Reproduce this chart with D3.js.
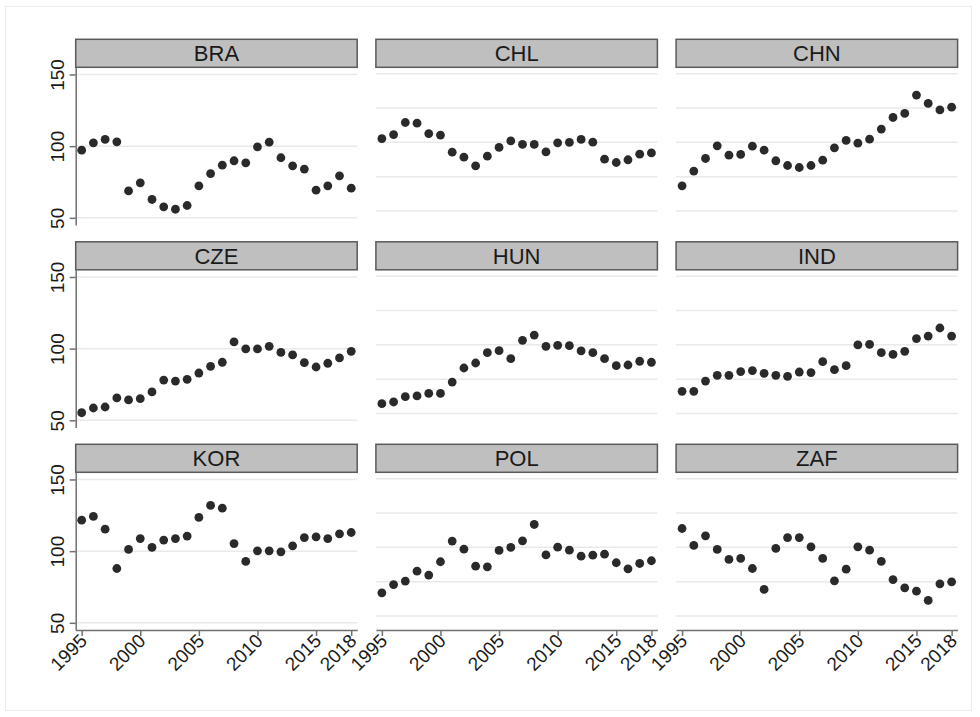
<!DOCTYPE html>
<html>
<head>
<meta charset="utf-8">
<script src="https://cdn.jsdelivr.net/npm/d3@7"></script>
<style>
  html, body { margin: 0; padding: 0; background: #ffffff; }
  svg { display: block; font-family: "Liberation Sans", Arial, sans-serif; }
</style>
</head>
<body>
<svg id="chart" width="980" height="717"></svg>
<script>
// Index values by country, 1995–2018
const years = d3.range(1995, 2019);
const countries = ["BRA", "CHL", "CHN", "CZE", "HUN", "IND", "KOR", "POL", "ZAF"];

const BRA = [97.2, 102.3, 104.7, 103, 68.8, 74.4, 62.8, 57.7, 56, 58.6, 72.3, 80.9, 86.7, 89.8, 88.4, 99.5, 102.8, 91.9, 86.3, 84, 69.3, 72.3, 79.3, 70.7];
const CHL = [105.3, 108.1, 116.5, 116, 108.8, 107.7, 95.8, 92.3, 86.3, 93, 99.1, 103.7, 101.2, 101.2, 96, 102.3, 102.6, 104.7, 102.8, 90.9, 88.6, 90.5, 94.4, 95.3];
const CHN = [72.3, 82.6, 91.4, 100.2, 93.7, 94.2, 100, 97.2, 89.8, 86.5, 85.1, 86.5, 90.2, 98.8, 104, 102.1, 104.9, 111.9, 120, 122.8, 135.6, 129.8, 125.3, 127.2];
const CZE = [55.3, 58.6, 59.3, 65.6, 64.2, 65.1, 69.8, 78.1, 77.4, 78.6, 83, 87.7, 90.5, 104.7, 99.8, 99.8, 101.6, 97.4, 95.6, 90.2, 87.2, 89.8, 93.5, 98.1];
const HUN = [61.6, 62.8, 66.5, 67, 68.8, 68.8, 76.7, 86.5, 90, 97.2, 98.6, 93, 105.8, 109.5, 101.6, 102.3, 102.1, 98.4, 97.2, 93, 88.1, 88.6, 91.2, 90.5];
const IND = [70.2, 70.2, 77.4, 81.4, 81.4, 84, 84.7, 82.8, 81.4, 80.7, 83.7, 83.3, 90.9, 85.3, 88.1, 102.6, 103, 97.2, 96, 98.1, 107, 108.8, 114.4, 108.8];
const KOR = [121.6, 124.2, 115.3, 87.9, 101.2, 108.8, 102.6, 107.7, 108.8, 110.5, 123.5, 131.9, 130, 105.3, 92.8, 100.2, 100.2, 99.5, 103.7, 109.5, 110, 108.8, 112.1, 113];
const POL = [70.9, 76.7, 79.1, 86, 83.3, 92.6, 107, 101.4, 89.5, 89.1, 100.5, 102.6, 107.2, 118.6, 97.4, 102.8, 100.7, 96.5, 97.2, 97.9, 91.9, 87.7, 91.4, 93.3];
const ZAF = [115.8, 104, 110.7, 101.2, 94.2, 94.9, 87.9, 73.3, 101.9, 109.5, 109.5, 103, 94.9, 79.3, 87.4, 103, 100.7, 92.8, 80.2, 74.4, 72.1, 65.6, 77.2, 78.6];

const yTicks = [50, 100, 150];
const xTicks = [1995, 2000, 2005, 2010, 2015, 2018];
const innerGridTicks = [50, 75, 100, 125, 150];

const seriesByCountry = { BRA, CHL, CHN, CZE, HUN, IND, KOR, POL, ZAF };

// Panel geometry
const nCols = 3;
const panelW = 281.5, plotH = 157.7, stripH = 28;
const colStep = 300.2, rowStep = 202.5;
const left0 = 75.7, top0 = 39.3;

const x = d3.scaleLinear().domain([1994.49, 2018.51]).range([0, panelW]);
const y = d3.scaleLinear().domain([45, 155]).range([plotH, 0]);
// Grid used by the panels that carry no y axis
const yInner = d3.scaleLinear().domain([50, 150]).range([y(54.8), y(150.5)]);

const svg = d3.select("#chart");

// light outer frame
svg.append("rect")
  .attr("x", 5.5).attr("y", 6.5)
  .attr("width", 966).attr("height", 704)
  .attr("fill", "#ffffff")
  .attr("stroke", "#ececec")
  .attr("stroke-width", 1);

const axisColor = "#6f6f6f";
const tickFont = "Liberation Sans, Arial, sans-serif";
const nRows = Math.ceil(countries.length / nCols);

countries.forEach((c, i) => {
  const col = i % nCols, row = Math.floor(i / nCols);
  const g = svg.append("g")
    .attr("transform", `translate(${left0 + col * colStep},${top0 + row * rowStep})`);

  // strip header
  g.append("rect")
    .attr("x", 0).attr("y", 0)
    .attr("width", panelW).attr("height", stripH)
    .attr("fill", "#bfbfbf")
    .attr("stroke", "#5a5a5a")
    .attr("stroke-width", 1.5);
  g.append("text")
    .attr("x", panelW / 2)
    .attr("y", stripH / 2 + 8)
    .attr("text-anchor", "middle")
    .style("font-size", "22px")
    .attr("fill", "#1a1a1a")
    .text(c);

  const plot = g.append("g").attr("transform", `translate(0,${stripH})`);

  // horizontal grid
  const gridVals = col === 0 ? yTicks : innerGridTicks;
  const gridScale = col === 0 ? y : yInner;
  plot.selectAll("line.grid")
    .data(gridVals)
    .join("line")
    .attr("class", "grid")
    .attr("x1", 0).attr("x2", panelW)
    .attr("y1", d => gridScale(d)).attr("y2", d => gridScale(d))
    .attr("stroke", "#e9e9e9")
    .attr("stroke-width", 1.5);

  // y axis on the first column
  if (col === 0) {
    const ya = plot.append("g")
      .call(d3.axisLeft(y).tickValues(yTicks).tickSize(6).tickSizeOuter(0));
    ya.attr("font-size", 19).attr("font-family", tickFont);
    ya.select(".domain").attr("stroke", axisColor).attr("stroke-width", 1.5);
    ya.selectAll(".tick line").attr("stroke", axisColor).attr("stroke-width", 1.5);
    ya.selectAll(".tick text")
      .attr("x", null).attr("dy", null)
      .attr("transform", "translate(-12,0) rotate(-90)")
      .attr("text-anchor", "middle")
      .attr("fill", "#1a1a1a");
  }

  // x axis on the last row
  if (row === nRows - 1) {
    const xa = plot.append("g")
      .attr("transform", `translate(0,${plotH})`)
      .call(d3.axisBottom(x).tickValues(xTicks).tickFormat(d3.format("d")).tickSize(6).tickSizeOuter(0));
    xa.attr("font-size", 19).attr("font-family", tickFont);
    xa.select(".domain").attr("stroke", axisColor).attr("stroke-width", 1.5);
    xa.selectAll(".tick line").attr("stroke", axisColor).attr("stroke-width", 1.5);
    xa.selectAll(".tick text")
      .attr("y", null).attr("dy", null)
      .attr("transform", "translate(6,12) rotate(-45)")
      .attr("text-anchor", "end")
      .attr("fill", "#1a1a1a");
  }

  // points
  const vals = seriesByCountry[c];
  plot.selectAll("circle")
    .data(years.map((yr, k) => ({ yr, v: vals[k] })))
    .join("circle")
    .attr("cx", d => x(d.yr))
    .attr("cy", d => y(d.v))
    .attr("r", 4.4)
    .attr("fill", "#2a2a2a");
});
</script>
</body>
</html>
